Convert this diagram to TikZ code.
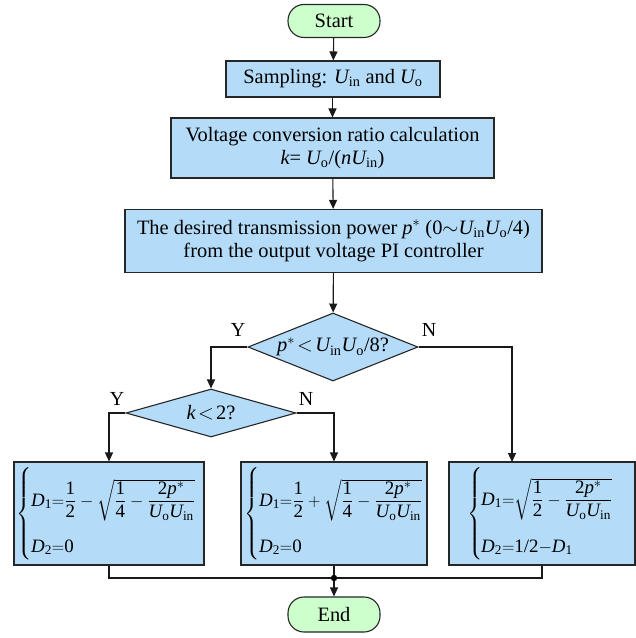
\documentclass[tikz,border=0pt]{standalone}
\usepackage{amsmath}
\usepackage{fontspec}
\setmainfont{Liberation Serif}
\usetikzlibrary{shapes.geometric,arrows.meta}
\definecolor{boxblue}{RGB}{180,220,248}
\definecolor{termgreen}{RGB}{204,255,204}
\newcommand{\ti}[1]{\text{\itshape #1}}
\newcommand{\tr}[1]{\text{\upshape #1}}
\newcommand{\Uin}{\ti{U}_{\tr{in}}}
\newcommand{\Uo}{\ti{U}_{\tr{o}}}
\newcommand{\pst}{\ti{p}^{*}}
\newcommand{\Dn}[1]{\ti{D}_{\tr{#1}}}
\newcommand{\bigbrace}{$\left\{\vrule width 0pt height 40bp depth 40bp\right.$}
\begin{document}
\begin{tikzpicture}[x=1bp,y=-1bp,
  every node/.style={font=\fontsize{20.5}{24}\selectfont, inner sep=0pt},
  proc/.style={draw=black!85, line width=1.1bp, fill=boxblue, align=center},
  term/.style={draw=black!85, line width=1.1bp, fill=termgreen, rounded corners=16bp},
  dec/.style={draw=black!85, line width=1.1bp, fill=boxblue, diamond, aspect=2.5},
  conn/.style={draw=black!90, line width=1.1bp},
  arr/.style={conn, -{Triangle[length=9bp,width=8bp]}},
  lab/.style={font=\fontsize{20}{24}\selectfont},
  eq/.style={font=\fontsize{19}{22}\selectfont, anchor=west},
  eqb/.style={font=\fontsize{19}{22}\selectfont, anchor=base west},
  brace/.style={font=\fontsize{19}{22}\selectfont, anchor=center}]
\useasboundingbox (0,0) rectangle (636,638);
% terminals
\node[term, minimum width=92bp, minimum height=33bp] (start) at (334,21) {Start};
\node[term, minimum width=92bp, minimum height=35bp] (end) at (334,614.5) {End};
% process boxes
\node[proc, minimum width=214bp, minimum height=36bp] (samp) at (333,79) {Sampling: $\Uin$ and $\Uo$};
\node[proc, minimum width=323bp, minimum height=60bp] (conv) at (332.5,148) {Voltage conversion ratio calculation\\[-1bp]$\ti{k}$= $\Uo$/($\ti{n}\Uin$)};
\node[proc, minimum width=417bp, minimum height=63bp] (pow) at (333.5,241) {The desired transmission power $\pst$ (0$\sim$$\Uin\Uo$/4)\\[-1bp]from the output voltage PI controller};
% decisions
\node[dec, minimum width=170bp, minimum height=68bp] (d1) at (333,347) {};
\node (d1t) at (333,347) {$\pst\!<\!\Uin\Uo\tr{/8?}$};
\node[dec, minimum width=170bp, minimum height=48bp] (d2) at (211,413) {};
\node (d2t) at (211,413) {$\ti{k}\!<\!\tr{2?}$};
% result boxes
\node[proc, minimum width=190bp, minimum height=103bp] (b1) at (109,513.5) {};
\node[brace] (b1br) at (25,513.5) {\bigbrace};
\node[eq] (b1e1) at (31,500) {$\Dn{1}{=}\dfrac{\tr{1}}{\tr{2}}-\sqrt{\dfrac{\tr{1}}{\tr{4}}-\dfrac{\tr{2}\pst}{\Uo\Uin}}$};
\node[eqb] (b1e2) at (31,552) {$\Dn{2}{=}\tr{0}$};
\node[proc, minimum width=186bp, minimum height=103bp] (b2) at (334,513.5) {};
\node[brace] (b2br) at (253,513.5) {\bigbrace};
\node[eq] (b2e1) at (259,500) {$\Dn{1}{=}\dfrac{\tr{1}}{\tr{2}}+\sqrt{\dfrac{\tr{1}}{\tr{4}}-\dfrac{\tr{2}\pst}{\Uo\Uin}}$};
\node[eqb] (b2e2) at (259,552) {$\Dn{2}{=}\tr{0}$};
\node[proc, minimum width=186bp, minimum height=103bp] (b3) at (542,513.5) {};
\node[brace] (b3br) at (476,513.5) {\bigbrace};
\node[eq] (b3e1) at (481,499) {$\Dn{1}{=}\sqrt{\dfrac{\tr{1}}{\tr{2}}-\dfrac{\tr{2}\pst}{\Uo\Uin}}$};
\node[eqb] (b3e2) at (481,552) {$\Dn{2}{=}\tr{1/2}{-}\Dn{1}$};
% connectors
\draw[arr] (start) -- (samp);
\draw[arr] (samp.south -| conv.north) -- (conv);
\draw[arr] (conv) -- (pow);
\draw[arr] (pow) -- (d1);
\coordinate (y1) at (211,347);
\draw[arr] (d1.west) -- (y1) -- (d2.north);
\coordinate (n1) at (512,347);
\coordinate (b3in) at (512,462);
\draw[arr] (d1.east) -- (n1) -- (b3in);
\coordinate (y2) at (109,413);
\draw[arr] (d2.west) -- (y2) -- (b1.north);
\coordinate (n2) at (334,413);
\draw[arr] (d2.east) -- (n2) -- (b2.north);
\coordinate (j) at (334,578);
\coordinate (jl) at (109,578);
\coordinate (jr) at (542,578);
\draw[conn] (b1.south) -- (jl) -- (jr) -- (b3.south);
\draw[arr] (b2.south) -- (j) -- (end.north);
\fill (j) circle (3.2bp);
% labels
\node[lab] (ly1) at (238,330) {Y};
\node[lab] (ln1) at (429,330) {N};
\node[lab] (ly2) at (117,399) {Y};
\node[lab] (ln2) at (306,399) {N};
\end{tikzpicture}
\end{document}
